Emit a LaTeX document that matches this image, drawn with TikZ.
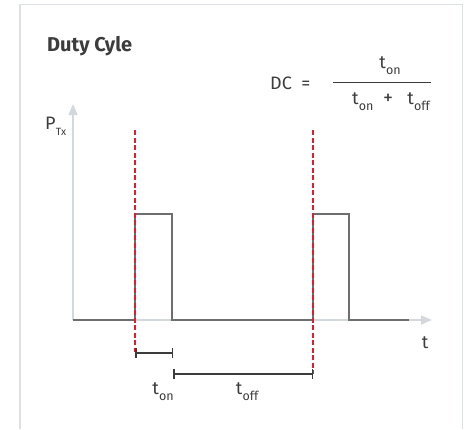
\documentclass[tikz,border=0pt]{standalone}
\usepackage{fontspec}
\setmainfont{Fira Sans}
\usetikzlibrary{arrows.meta}
\definecolor{framec}{HTML}{DDE1E5}
\definecolor{axisc}{HTML}{D3D8DD}
\definecolor{sigc}{HTML}{6E6E6E}
\definecolor{txtc}{HTML}{3C3C3C}
\definecolor{markc}{HTML}{E41B28}
\newcommand{\tsub}[1]{t\kern0.3pt\raisebox{-0.35em}{\fontsize{12.5}{13}\selectfont #1}}
\tikzset{
  lbl/.style={text=txtc, inner sep=0pt, font=\fontsize{18}{20}\selectfont},
  axisline/.style={axisc, line width=1.5pt, -{Triangle[width=9pt,length=11pt]}},
  signal/.style={sigc, line width=1.8pt},
  marker/.style={markc, line width=1.2pt, dash pattern=on 5pt off 2.5pt},
  span/.style={txtc, line width=1.5pt, {Bar[width=10pt]}-{Bar[width=10pt]}}
}
\begin{document}
\begin{tikzpicture}[x=1pt,y=-1pt]
\useasboundingbox (0,0) rectangle (470,429);
\draw[framec, line width=1.2pt] (20,429) -- (20,4.5) -- (462.5,4.5) -- (462.5,429);
\node[lbl, font=\fontsize{20}{22}\selectfont\bfseries, anchor=base west] (title) at (47,51) {Duty Cyle};
% formula
\node[lbl, anchor=base west] (dc) at (270,89) {DC\ \ =};
\node[lbl] (num) at (390,66) {\tsub{on}};
\node[lbl] (den) at (391,102) {\tsub{on}\ \ {\fontsize{20}{20}\selectfont +}\ \ \ \tsub{off}};
\coordinate (fl) at (333,82);
\coordinate (fr) at (431,82);
\draw[txtc, line width=1pt] (fl) -- (fr);
% axes
\coordinate (o) at (73,320);
\coordinate (ytop) at (73,104);
\coordinate (xend) at (432,320);
\draw[axisline] (o) -- (ytop);
\draw[axisline] (o) -- (xend);
\node[lbl, anchor=base west] (p) at (45,129) {P\kern0.3pt\raisebox{-0.35em}{\fontsize{10.5}{11}\selectfont Tx}};
\node[lbl] (t) at (425,343) {t};
% signal
\coordinate (r1) at (135,320);
\coordinate (r1t) at (135,214);
\coordinate (f1t) at (172,214);
\coordinate (f1) at (172,320);
\coordinate (r2) at (313,320);
\coordinate (r2t) at (313,214);
\coordinate (f2t) at (349,214);
\coordinate (f2) at (349,320);
\coordinate (send) at (409,320);
\draw[signal] (o) -- (r1) -- (r1t) -- (f1t) -- (f1) -- (r2) -- (r2t) -- (f2t) -- (f2) -- (send);
% markers
\coordinate (m1a) at (135,130);
\coordinate (m1b) at (135,352);
\coordinate (m2a) at (313,130);
\coordinate (m2b) at (313,374);
\draw[marker] (m1a) -- (m1b);
\draw[marker] (m2a) -- (m2b);
% spans
\coordinate (s1a) at (135,353);
\coordinate (s1b) at (173,353);
\coordinate (s2a) at (173,374);
\coordinate (s2b) at (313,374);
\draw[span] (s1a) -- (s1b);
\draw[span] (s2a) -- (s2b);
\node[lbl] (ton) at (163,392) {\tsub{on}};
\node[lbl] (toff) at (247,392) {\tsub{off}};
\end{tikzpicture}
\end{document}
